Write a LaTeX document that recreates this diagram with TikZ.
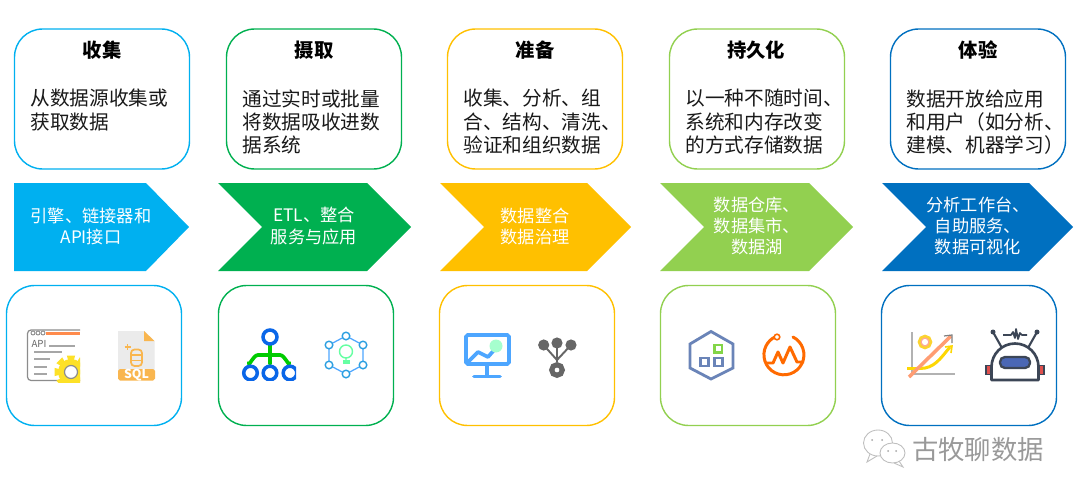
\documentclass[tikz,border=0pt]{standalone}
\usepackage{fontspec}
\setmainfont{Noto Sans CJK SC}
\usepackage{xcolor}
\usepackage{tikz}
\usetikzlibrary{positioning, arrows.meta, shapes.geometric}

\definecolor{stepA}{HTML}{00B0F0}
\definecolor{stepB}{HTML}{00B050}
\definecolor{stepC}{HTML}{FFC000}
\definecolor{stepD}{HTML}{92D050}
\definecolor{stepE}{HTML}{0070C0}
\definecolor{iconBlue}{HTML}{0A66E8}
\definecolor{iconSky}{HTML}{4DA6FF}
\definecolor{iconGrey}{HTML}{666666}
\definecolor{iconSlate}{HTML}{6A84B8}
\definecolor{iconOrange}{HTML}{FF6A00}
\definecolor{iconAmber}{HTML}{F9B64F}
\definecolor{iconDark}{HTML}{3C4656}
\definecolor{iconVisor}{HTML}{4A67B5}
\definecolor{iconRed}{HTML}{E0504D}

\begin{document}
\begin{tikzpicture}[
  x=0.02cm, y=-0.02cm,
  font=\fontsize{11.2}{13.3}\selectfont,
  card/.style={draw, rounded corners=0.56cm, minimum width=3.5cm,
    minimum height=2.8cm, line width=0.8pt, fill=white, outer sep=0pt},
  cardtitle/.style={font=\fontsize{11}{13.3}\selectfont\bfseries, inner sep=0pt},
  cardtext/.style={anchor=north west, align=left, inner sep=0pt, text=black!90},
  chevtext/.style={align=center, text=white, inner sep=0pt,
    font=\fontsize{9.8}{12}\selectfont},
  mark line/.style={line width=2.1pt, line cap=round, line join=round},
]
  \useasboundingbox (0,0) rectangle (1080,497);

  % top row
  \node[card, draw=stepA] (collect) at (102,99)  {};
  \node[card, draw=stepB] (ingest)  at (314,99)  {};
  \node[card, draw=stepC] (prepare) at (535,99)  {};
  \node[card, draw=stepD] (persist) at (757,99)  {};
  \node[card, draw=stepE] (expose)  at (978,99)  {};

  \node[cardtitle] (collecttitle) at (102,50.5) {收集};
  \node[cardtitle] (ingesttitle)  at (314,50.5) {摄取};
  \node[cardtitle] (preparetitle) at (535,50.5) {准备};
  \node[cardtitle] (persisttitle) at (756,50.5) {持久化};
  \node[cardtitle] (exposetitle)  at (978,50.5) {体验};

  \node[cardtext] (collectbody) at (30,89)  {从数据源收集或\\获取数据};
  \node[cardtext] (ingestbody)  at (242,89) {通过实时或批量\\将数据吸收进数\\据系统};
  \node[cardtext] (preparebody) at (463,89) {收集、分析、组\\合、结构、清洗、\\验证和组织数据};
  \node[cardtext] (persistbody) at (685,89) {以一种不随时间、\\系统和内存改变\\的方式存储数据};
  \node[cardtext] (exposebody)  at (906,89) {数据开放给应用\\和用户（如分析、\\建模、机器学习）};

  % middle row
  \fill[stepA] (14,183) -- (146,183) -- (189,227) -- (146,271) -- (14,271) -- cycle;
  \fill[stepB] (218,183) -- (367,183) -- (411,227) -- (367,271) -- (218,271) -- (262,227) -- cycle;
  \fill[stepC] (440,183) -- (587,183) -- (631,227) -- (587,271) -- (440,271) -- (484,227) -- cycle;
  \fill[stepD] (660,183) -- (809,183) -- (853,227) -- (809,271) -- (660,271) -- (704,227) -- cycle;
  \fill[stepE] (882,183) -- (1029,183) -- (1073,227) -- (1029,271) -- (882,271) -- (926,227) -- cycle;

  \node[chevtext] (collecttool) at (91,226)  {引擎、链接器和\\API接口};
  \node[chevtext] (ingesttool)  at (314,226) {ETL、整合\\服务与应用};
  \node[chevtext] (preparetool) at (535,226) {数据整合\\数据治理};
  \node[chevtext] (persisttool) at (757,226) {数据仓库、\\数据集市、\\数据湖};
  \node[chevtext] (exposetool)  at (978,226) {分析工作台、\\自助服务、\\数据可视化};

  % bottom row
  \node[card, draw=stepA] (collecticons) at (94,355.5)  {};
  \node[card, draw=stepB] (ingesticons)  at (306,355.5) {};
  \node[card, draw=stepC] (prepareicons) at (527,355.5) {};
  \node[card, draw=stepD] (persisticons) at (748,355.5) {};
  \node[card, draw=stepE] (exposeicons)  at (969,355.5) {};

  % api window
  \begin{scope}
    \clip (26,328) rectangle (80,382);
    \draw[black!45, line width=0.7pt, rounded corners=2pt, fill=white] (27.5,330) rectangle (90,380.5);
    \fill[orange!70!red!70] (46,331.5) rectangle (80,335);
    \foreach \px in {33,38,43} \draw[black!45, line width=0.5pt] (\px,333) circle (2);
    \draw[black!35, line width=0.7pt] (49,346) -- (75,346) (34,352) -- (62,352)
      (34,359) -- (50,359) (34,367) -- (47,367) (34,374) -- (47,374);
    \foreach \ang in {0,45,...,315}
      \fill[yellow!80!orange!85] (71,372) -- ++(\ang-14:17) -- ++(\ang+90:8.2) -- cycle;
    \fill[yellow!80!orange!85] (71,372) circle (13);
    \draw[black!45, line width=0.7pt, fill=white] (71,372) circle (6.5);
  \end{scope}
  \node[font=\fontsize{5.5}{6}\selectfont, text=black!60, inner sep=0pt] (apilabel) at (39,344) {API};

  % sql file
  \fill[black!8] (118,331) -- (144,331) -- (154.5,341) -- (154.5,372) -- (118,372) -- cycle;
  \fill[iconAmber] (144,331) -- (154.5,341) -- (144,341) -- cycle;
  \fill[iconAmber, rounded corners=1pt] (118,369) rectangle (155,380.5);
  \node[font=\fontsize{7}{8}\selectfont\bfseries, text=white, inner sep=0pt] (sqllabel) at (136.5,375) {SQL};
  \draw[iconAmber, line width=1pt, rounded corners=2pt] (131,349.5) rectangle (142,366);
  \draw[iconAmber, line width=1pt] (131,355) -- (142,355) (131,360.5) -- (142,360.5);
  \draw[iconAmber, line width=1pt] (124.5,347) -- (130.5,347) (127.5,344) -- (127.5,350);

  % org tree
  \draw[green!80!black, mark line] (270,344) -- (270,364) (248.5,363) to[out=-90, in=180] (258,355)
    -- (280,355) to[out=0, in=-90] (289.5,363);
  \begin{scope}
    \clip (238,326) rectangle (296,380.5);
    \draw[iconBlue, line width=2pt] (270,337) circle (7) (250.5,373) circle (6.8)
      (270,373) circle (6.8) (290,373) circle (6.8);
  \end{scope}

  % bulb network
  \draw[iconSky, line width=0.7pt] (346,336) -- (363,345) -- (363,365) -- (346,374) -- (329,365) -- (329,345) -- cycle;
  \foreach \px/\py in {346/336, 363/345, 363/365, 346/374, 329/365, 329/345}
    \draw[cyan!50!iconSky, line width=0.8pt, fill=white] (\px,\py) circle (3.8);
  \draw[green!60!cyan!60, line width=0.8pt] (346,351.5) circle (6.5) (346,358) -- (346,363);
  \fill[green!60!cyan!60] (342.5,360) rectangle (349.5,364);

  % monitor
  \draw[iconSky, line width=2.2pt, rounded corners=1pt] (466,335) rectangle (509,364);
  \draw[iconSky, line width=2.2pt] (487,365) -- (487,376);
  \draw[iconSky, mark line] (474,376.5) -- (500,376.5);
  \draw[iconSky, mark line] (468,362) -- (478,352) -- (488,357) -- (495,349);
  \fill[green!55!cyan!35] (496,346) circle (6.5);

  % fork
  \draw[iconGrey, line width=1.1pt] (557,360) -- (543.5,345) (557,362) -- (557,343) (557,360) -- (571,345);
  \fill[iconGrey] (543.7,345) circle (5.6) (557,343) circle (5.6) (571,345) circle (5.6);
  \draw[iconGrey, line width=2.9pt] (557,370) circle (5.3);

  % warehouse hexagon
  \draw[iconSlate, line width=1.6pt, line join=miter] (711,331.5) -- (733,344) -- (733,368) -- (711,379)
    -- (690,368) -- (690,344) -- cycle;
  \draw[stepD!90!green, line width=1.6pt] (714.5,345) rectangle (722,352.5);
  \draw[iconSlate, line width=1.4pt] (700.5,358) rectangle (708.5,366) (714.5,358) rectangle (722.5,366);

  % pulse ring
  \draw[iconOrange, line width=1.7pt, line cap=round] (793,337) arc[start angle=-63, end angle=243, radius=20];
  \draw[iconOrange, line width=0.9pt, fill=white] (777,337) circle (2.8);
  \draw[iconOrange, line width=1.7pt, line join=round] (765,363) -- (773,363) -- (778,352) -- (783,363)
    -- (790,347) -- (797,362) -- (804,362);

  % chart
  \draw[black!30, line width=0.8pt] (912,332) -- (912,374) -- (955,374);
  \draw[iconAmber!60!yellow, line width=2pt] (925,342) circle (5.5);
  \draw[orange!30!red!40, line width=0.7pt] (925,342) circle (3.9);
  \draw[yellow!75!orange, line width=1.7pt] (907,368.5) -- (920,368.5) to[out=0, in=-130] (950,347);
  \draw[yellow!75!orange, line width=0.9pt] (945,347) -- (952,346) -- (951,353);
  \draw[orange!60!red!55, line width=2pt] (909,377) -- (951,336);
  \draw[black!50, line width=0.7pt] (944,336) -- (952,335) -- (952,343);

  % robot
  \draw[iconDark, line width=1.2pt, line cap=round] (993,332) -- (1002,348) (1037,332) -- (1028,348);
  \fill[iconDark] (993,332) circle (2.5) (1037,332) circle (2.5);
  \draw[iconDark, line width=1pt, line join=round] (1003,335) -- (1011,335) -- (1013,332) -- (1015,338)
    -- (1016,329) -- (1018,339) -- (1020,333) -- (1022,335) -- (1027,335);
  \draw[fill=iconRed, draw=iconDark, line width=0.7pt] (986,365.5) rectangle (990.5,374.5)
    (1039.5,365.5) rectangle (1044,374.5);
  \draw[iconDark, line width=1.5pt, fill=white, line join=round] (991.5,380) -- (991.5,367) arc[start angle=180, end angle=360, radius=23.5]
    -- (1038.5,380) -- cycle;
  \draw[iconDark, line width=1.3pt, fill=iconVisor, rounded corners=2.8pt] (1000,357) rectangle (1030,368);

  % watermark
  \draw[black!25, line width=0.5pt, fill=white] (870,454) -- (867,462) -- (877,456);
  \draw[black!25, line width=0.5pt, fill=white] (878,443) ellipse (14.5 and 13);
  \draw[black!25, line width=0.5pt, fill=white] (899,461) -- (903,467) -- (894,463);
  \draw[black!25, line width=0.5pt, fill=white] (892.5,453) ellipse (12.5 and 10);
  \fill[black!35] (872,440) circle (1) (882,440) circle (1) (888,451) circle (1) (896,451) circle (1);
  \node[font=\fontsize{15}{15}\selectfont, text=black!40, inner sep=0pt] (brandname) at (978,450) {古牧聊数据};
\end{tikzpicture}
\end{document}
